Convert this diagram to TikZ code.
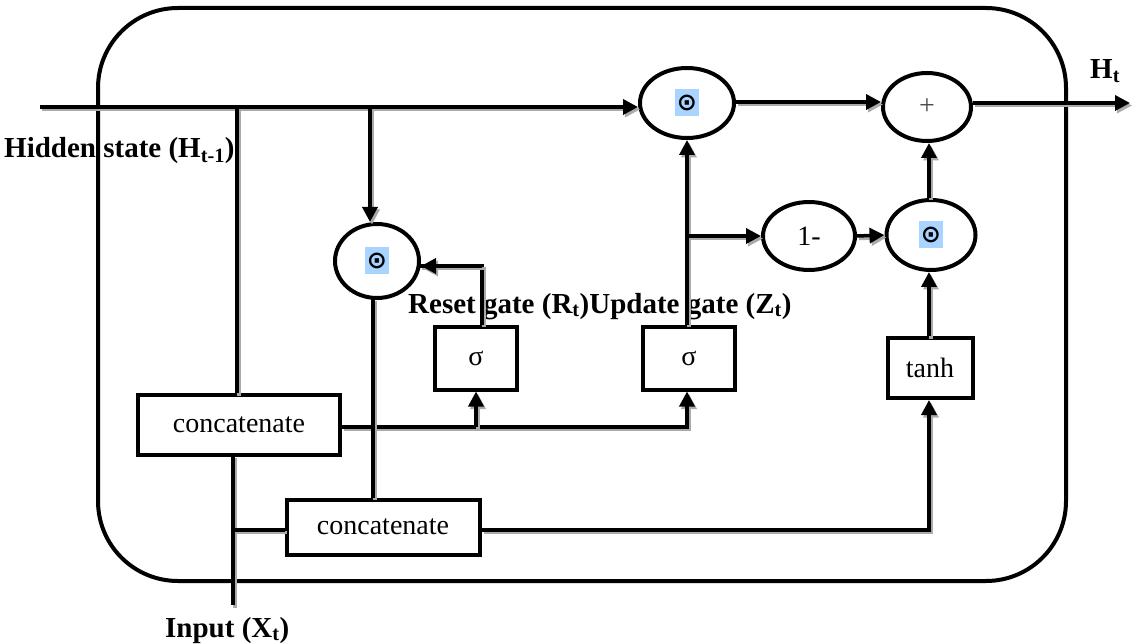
\documentclass[tikz,border=0pt]{standalone}
\usepackage{fontspec}
\setmainfont{Liberation Serif}
\newfontfamily\symfont{DejaVu Sans}
\usetikzlibrary{shapes.geometric,arrows.meta}
\definecolor{symblue}{RGB}{168,212,255}
\definecolor{shadowgray}{RGB}{170,170,170}
\tikzset{
  box/.style={draw, line width=4pt, fill=white, inner sep=0pt, font=\fontsize{28}{32}\selectfont},
  oval/.style={draw, ellipse, line width=4pt, fill=white, inner sep=0pt, font=\fontsize{28}{32}\selectfont},
  conn/.style={line width=3.5pt, preaction={draw=shadowgray, line width=3.5pt, transform canvas={shift={(2pt,-2.5pt)}}}},
  arr/.style={conn, -{Triangle[length=15pt,width=15pt]}},
  lbl/.style={anchor=base west, inner sep=0pt, font=\fontsize{29}{33}\selectfont\bfseries},
  odot/.style={fill=symblue, inner sep=1pt, minimum width=24pt, minimum height=27pt, font=\symfont\bfseries\fontsize{24}{26}\selectfont}
}
\begin{document}
\begin{tikzpicture}[x=1pt,y=-1pt]
\useasboundingbox (0,0) rectangle (1132,644);
% outer frame
\draw[line width=4pt, rounded corners=80pt] (98,8) rectangle (1066,581);
% labels
\node[lbl] (lh) at (4,158) {Hidden state (H\textsubscript{t-1})};
\node[lbl] (lru) at (408,313) {Reset gate (R\textsubscript{t})Update gate (Z\textsubscript{t})};
\node[lbl] (lx) at (165,637) {Input (X\textsubscript{t})};
\node[lbl] (lo) at (1090,79) {H\textsubscript{t}};
% boxes
\node[box, minimum width=202pt, minimum height=60pt] (c1) at (239,425) {concatenate};
\node[box, minimum width=193pt, minimum height=55pt] (c2) at (383,527) {concatenate};
\node[box, minimum width=82pt, minimum height=63pt] (sr) at (476,358) {σ};
\node[box, minimum width=92pt, minimum height=63pt] (sz) at (689,358) {σ};
\node[box, minimum width=85pt, minimum height=60pt] (th) at (930,368) {tanh};
% ovals
\node[oval, minimum width=94pt, minimum height=70pt] (dt) at (687,103) {};
\node[odot] (dts) at (dt) {⊙};
\node[oval, minimum width=88pt, minimum height=68pt, font=\fontsize{28}{30}\selectfont, text=black!70] (pl) at (927,107) {+};
\node[oval, minimum width=84pt, minimum height=74pt] (dr) at (377,261) {};
\node[odot] (drs) at (dr) {⊙};
\node[oval, minimum width=92pt, minimum height=68pt] (om) at (809,236) {1-};
\node[oval, minimum width=89pt, minimum height=70pt] (db) at (931,235) {};
\node[odot] (dbs) at (db) {⊙};
% coordinates
\coordinate (hin) at (40,107);
\coordinate (hout) at (1130,103);
\coordinate (xin) at (233,605);
\coordinate (j1) at (237,107);
\coordinate (j2) at (370,107);
\coordinate (j3) at (476,427);
\coordinate (j4) at (687,236);
\coordinate (j5) at (233,530);
\coordinate (zx) at (687,427);
\coordinate (rx) at (482,266);
\coordinate (tx) at (929,530);
% connectors
\draw[arr] (hin) -- (hin -| dt.west);
\draw[conn] (j1) -- (j1 |- c1.north);
\draw[arr] (j2) -- (j2 |- dr.north);
\draw[arr] (dt.east |- 0,102) -- (pl.west |- 0,102);
\draw[arr] (pl.east |- hout) -- (hout);
\draw[arr] (c1.east |- j3) -- (zx) -- (zx |- sz.south);
\draw[arr] (j3) -- (j3 |- sr.south);
\draw[conn] (rx |- sr.north) -- (rx) -- (420,266);
\draw[arr] (rx) -- (dr.east |- rx);
\draw[arr] (zx |- sz.north) -- (zx |- dt.south);
\draw[arr] (j4) -- (om.west);
\draw[arr] (om.east) -- (db.west);
\draw[arr] (tx |- db.north) -- (tx |- pl.south);
\draw[arr] (tx |- th.north) -- (tx |- db.south);
\draw[arr] (c2.east |- tx) -- (tx) -- (tx |- th.south);
\draw[conn] (373,298) -- (c2.north -| 373,0);
\draw[conn] (233,455) -- (xin);
\draw[conn] (j5) -- (c2.west |- j5);
\end{tikzpicture}
\end{document}
